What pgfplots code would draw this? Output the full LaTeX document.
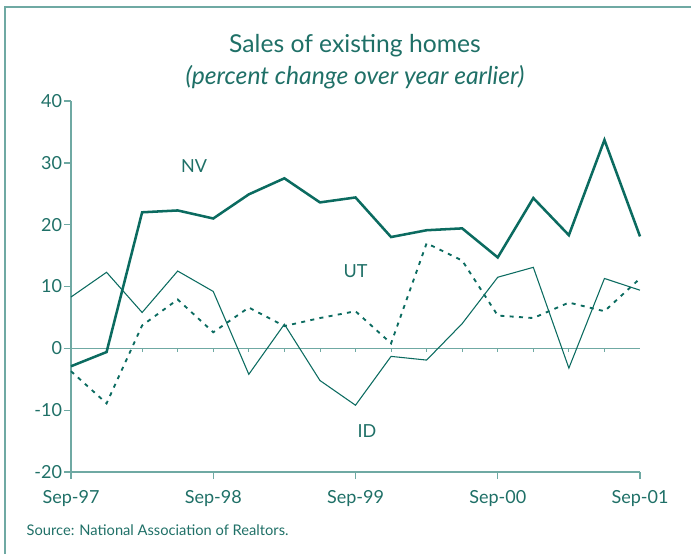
\documentclass[border=0pt]{standalone}
\usepackage{pgfplots}
\pgfplotsset{compat=1.18}
\usepackage{fontspec}
\setmainfont{Lato}

\definecolor{linecol}{HTML}{0B6B60}
\definecolor{axiscol}{HTML}{6FA9A3}
\definecolor{txtcol}{HTML}{1F7067}

\begin{document}
\begin{tikzpicture}
  % page 691x554 px at 0.75pt per px
  \useasboundingbox (0,0) rectangle (518.25pt,415.5pt);
  % frame: left and top edges only
  \draw[axiscol, line width=1.5pt] (3.4pt,0) -- (3.4pt,410.6pt) -- (518.25pt,410.6pt);

  \node[txtcol, font=\fontsize{18.5}{22}\selectfont] at (266.25pt,381pt) {Sales of existing homes};
  \node[txtcol, font=\fontsize{18.5}{22}\selectfont\itshape] at (266.25pt,357.75pt) {(percent change over year earlier)};
  \node[txtcol, anchor=west, font=\fontsize{11}{13}\selectfont] at (16.5pt,18pt) {Source: National Association of Realtors.};

  \begin{axis}[
      at={(53.25pt,61.5pt)}, anchor=south west,
      scale only axis,
      width=426.75pt, height=278.25pt,
      xmin=0, xmax=16, ymin=-20, ymax=40,
      axis lines=left,
      axis line style={-, axiscol, line width=1pt},
      xtick={0,4,8,12,16},
      xticklabels={Sep-97,Sep-98,Sep-99,Sep-00,Sep-01},
      ytick={-20,-10,0,10,20,30,40},
      yticklabels={-20,-10,0,10,20,30,40},
      tick align=outside,
      major tick length=5.25pt,
      tick style={axiscol, line width=1pt},
      tick label style={txtcol, font=\fontsize{13.5}{16}\selectfont},
      xticklabel style={yshift=-5pt},
      yticklabel style={xshift=2pt},
      clip=false,
    ]
    % zero line with quarterly ticks
    \draw[axiscol, line width=1pt] (axis cs:0,0) -- (axis cs:16,0);
    \pgfplotsinvokeforeach{1,...,15}{
      \draw[axiscol, line width=0.6pt] (axis cs:#1,0) -- ([yshift=-2.5pt]axis cs:#1,0);
    }

    % ID
    \addplot[linecol, line width=0.8pt, mark=none] coordinates {
      (0,8.3) (1,12.3) (2,5.8) (3,12.5) (4,9.2) (5,-4.2) (6,3.9) (7,-5.2)
      (8,-9.2) (9,-1.3) (10,-1.9) (11,4.0) (12,11.5) (13,13.1) (14,-3.2)
      (15,11.3) (16,9.4)
    };
    % UT
    \addplot[linecol, line width=1.4pt, dash pattern=on 3pt off 4pt, mark=none] coordinates {
      (0,-3.7) (1,-8.9) (2,3.7) (3,7.9) (4,2.6) (5,6.6) (6,3.6) (7,4.9)
      (8,6.0) (9,0.8) (10,17.0) (11,14.2) (12,5.3) (13,4.9) (14,7.4)
      (15,6.0) (16,11.3)
    };
    % NV
    \addplot[linecol, line width=1.9pt, mark=none] coordinates {
      (0,-2.9) (1,-0.6) (2,22.0) (3,22.3) (4,21.0) (5,24.9) (6,27.5) (7,23.6)
      (8,24.4) (9,18.0) (10,19.1) (11,19.4) (12,14.7) (13,24.3) (14,18.3)
      (15,33.7) (16,18.1)
    };

    \node[txtcol, font=\fontsize{13.5}{16}\selectfont] at (axis cs:3.46,29.4) {NV};
    \node[txtcol, font=\fontsize{13.5}{16}\selectfont] at (axis cs:8.0,12.5) {UT};
    \node[txtcol, font=\fontsize{13.5}{16}\selectfont] at (axis cs:8.32,-13.3) {ID};
  \end{axis}
\end{tikzpicture}
\end{document}
